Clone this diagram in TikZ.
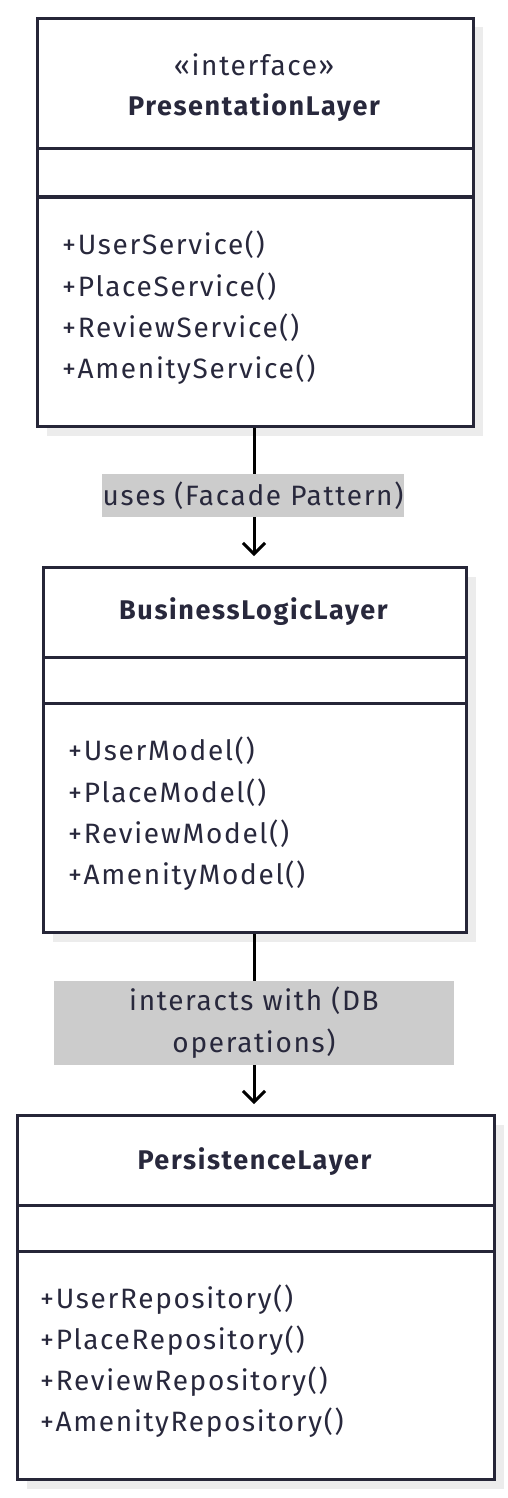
\documentclass[tikz,border=0pt]{standalone}
\usepackage{fontspec}
\setmainfont[LetterSpace=6]{Fira Sans}
\usetikzlibrary{arrows.meta,shadows}
\definecolor{umlstroke}{RGB}{38,38,56}
\definecolor{umltext}{RGB}{40,40,60}
\definecolor{lblgray}{RGB}{204,204,204}
\definecolor{shadowgray}{RGB}{236,236,236}
\tikzset{
  umlbox/.style={draw=umlstroke, line width=3pt, fill=white, rectangle, anchor=north west, inner sep=0pt,
    drop shadow={shadow xshift=9pt, shadow yshift=-9pt, fill=shadowgray, opacity=1}},
  umlline/.style={draw=umlstroke, line width=3pt},
  member/.style={anchor=west, text=umltext, font=\fontsize{28}{30}\selectfont, inner sep=0pt},
  title/.style={text=umltext, font=\fontsize{27}{30}\selectfont\bfseries, inner sep=0pt},
  stereo/.style={text=umltext, font=\fontsize{28}{30}\selectfont, inner sep=0pt},
  lbl/.style={fill=lblgray, text=umltext, font=\fontsize{28}{42}\selectfont, inner sep=0pt, align=center},
  conn/.style={draw=black, line width=3pt, -{Straight Barb[length=11pt,width=22pt,line width=3pt]}, shorten >=10pt}
}
\begin{document}
\begin{tikzpicture}[x=1pt,y=-1pt]
\useasboundingbox (0,0) rectangle (508,1498);
% Box 1
\node[umlbox, minimum width=436pt, minimum height=408pt] (b1) at (36,17) {};
\draw[umlline] (b1.west |- 0,149) -- (b1.east |- 0,149);
\draw[umlline] (b1.west |- 0,197) -- (b1.east |- 0,197);
\node[stereo] (s1) at (254,65) {«interface»};
\node[title] (h1) at (254,108) {PresentationLayer};
\node[member] (m11) at (62,245) {+UserService()};
\node[member] (m12) at (62,287) {+PlaceService()};
\node[member] (m13) at (62,328) {+ReviewService()};
\node[member] (m14) at (62,370) {+AmenityService()};
% Box 2
\node[umlbox, minimum width=423pt, minimum height=365pt] (b2) at (42,566) {};
\draw[umlline] (b2.west |- 0,657) -- (b2.east |- 0,657);
\draw[umlline] (b2.west |- 0,703) -- (b2.east |- 0,703);
\node[title] (h2) at (253.5,612) {BusinessLogicLayer};
\node[member] (m21) at (68,751) {+UserModel()};
\node[member] (m22) at (68,793) {+PlaceModel()};
\node[member] (m23) at (68,834) {+ReviewModel()};
\node[member] (m24) at (68,876) {+AmenityModel()};
% Box 3
\node[umlbox, minimum width=477pt, minimum height=364pt] (b3) at (16,1114) {};
\draw[umlline] (b3.west |- 0,1205) -- (b3.east |- 0,1205);
\draw[umlline] (b3.west |- 0,1251) -- (b3.east |- 0,1251);
\node[title] (h3) at (254.5,1162) {PersistenceLayer};
\node[member] (m31) at (40,1300) {+UserRepository()};
\node[member] (m32) at (40,1341) {+PlaceRepository()};
\node[member] (m33) at (40,1382) {+ReviewRepository()};
\node[member] (m34) at (40,1423) {+AmenityRepository()};
% Connectors
\draw[conn] (b1.south -| 254,0) -- (b2.north -| 254,0);
\node[lbl, minimum width=302pt, minimum height=43pt] (l1) at (253,495.5) {uses (Facade Pattern)};
\draw[conn] (b2.south -| 254,0) -- (b3.north -| 254,0);
\node[lbl, minimum width=400pt, minimum height=84pt] (l2) at (254,1023) {interacts with (DB\\operations)};
\end{tikzpicture}
\end{document}
